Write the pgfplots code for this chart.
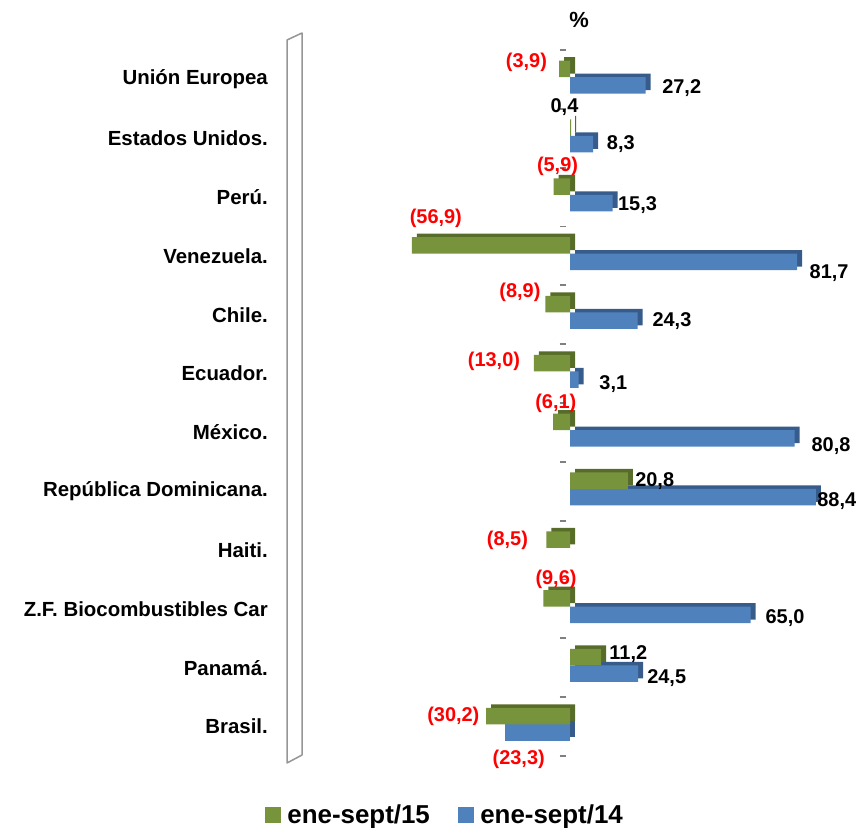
\documentclass[border=0pt]{standalone}
\usepackage{fontspec}
\setmainfont{Liberation Sans}
\usepackage{pgfplots}
\pgfplotsset{compat=1.18}
\usepackage{pgfplotstable}
\definecolor{gF}{RGB}{119,147,60}
\definecolor{gD}{RGB}{86,108,40}
\definecolor{bF}{RGB}{79,129,189}
\definecolor{bD}{RGB}{55,92,140}
\definecolor{wall}{RGB}{150,150,150}
\definecolor{tickc}{RGB}{128,128,128}

% ene-sept/15 (green): y position (11 = top), value, label offsets (bp), label
\pgfplotstableread{
y x dx dy lab
11 -3.9 -32.7 16.9 (3,9)
9 -5.9 3.9 31 (5,9)
8 -56.9 24 37.3 (56,9)
7 -8.9 -25.3 22.1 (8,9)
6 -13.0 -39.9 12.4 (13,0)
5 -6.1 2.8 28.7 (6,1)
3 -8.5 -38.9 9.6 (8,5)
2 -9.6 12.7 29.6 (9,6)
0 -30.2 -32.7 10.2 (30,2)
}\greenneg
\pgfplotstableread{
y x dx dy lab
10 0.4 -6.6 30.9 0,4
4 20.8 26.9 10 20,8
1 11.2 27.2 13.9 11,2
}\greenpos

% ene-sept/14 (blue)
\pgfplotstableread{
y x dx dy lab
11 27.2 36.1 -9.1 27,2
10 8.3 27.7 -6.1 8,3
9 15.3 25 -8.2 15,3
8 81.7 32 -17.2 81,7
7 24.3 34.4 -6.4 24,3
6 3.1 34.7 -10.1 3,1
5 80.8 36.4 -13.8 80,8
4 88.4 21 -10 88,4
2 65.0 34.3 -9.1 65,0
1 24.5 28.6 -10.3 24,5
}\bluepos
\pgfplotstableread{
y x dx dy lab
0 -23.3 13.5 -32.3 (23,3)
}\blueneg

\pgfplotsset{
  mylabels/.style={
    point meta=explicit symbolic,
    visualization depends on={\thisrow{dx}\as\mydx},
    visualization depends on={\thisrow{dy}\as\mydy},
    nodes near coords,
    every node near coord/.append style={anchor=center, inner sep=0pt,
      xshift=\mydx bp, yshift=\mydy bp,
      font=\bfseries\fontsize{20}{24}\selectfont, text=#1},
  },
  gbar/.style={xbar, bar width=16.5bp, bar shift=10.5bp, fill=gF, draw=none, forget plot},
  bbar/.style={xbar, bar width=16.5bp, bar shift=-6bp, fill=bF, draw=none, forget plot},
  gdepth/.style={xbar, bar width=16.5bp, bar shift=14bp, fill=gD, draw=none, forget plot, xshift=5bp},
  bdepth/.style={xbar, bar width=16.5bp, bar shift=-2.5bp, fill=bD, draw=none, forget plot, xshift=5bp},
}

\begin{document}
\begin{tikzpicture}
\path[use as bounding box] (0bp,0bp) rectangle (858bp,828bp);
\draw[wall, line width=1.5bp, fill=white, line join=round]
  (287bp,65bp) -- (287bp,788bp) -- (302bp,795bp) -- (302bp,73bp) -- cycle;
\begin{axis}[
  at={(292bp,72bp)}, anchor=south west,
  scale only axis, width=556bp, height=706bp,
  xmin=-100, xmax=100, ymin=-0.5, ymax=11.5,
  axis line style={draw=none},
  xtick=\empty,
  ytick={0,...,11},
  yticklabels={Brasil.,Panamá.,Z.F. Biocombustibles Car,Haiti.,República Dominicana.,México.,Ecuador.,Chile.,Venezuela.,Perú.,Estados Unidos.,Unión Europea},
  major tick length=0pt,
  yticklabel style={font=\bfseries\fontsize{20.5}{24}\selectfont, anchor=east, inner sep=0pt, xshift=-24bp},
  clip=false,
  legend columns=2,
  legend style={at={(0.275,-0.0836)}, anchor=center, draw=none, fill=none,
    font=\bfseries\fontsize{26}{30}\selectfont,
    /tikz/every odd column/.append style={column sep=5bp},
    /tikz/every even column/.append style={column sep=26bp}},
  legend cell align=left,
]
\addlegendimage{legend image code/.code={\fill[gF] (0bp,-7.5bp) rectangle (15bp,7.5bp);}}
\addlegendentry{ene-sept/15}
\addlegendimage{legend image code/.code={\fill[bF] (0bp,-7.5bp) rectangle (15bp,7.5bp);}}
\addlegendentry{ene-sept/14}

\pgfplotsinvokeforeach{-0.5,0.5,1.5,2.5,3.5,4.5,5.5,6.5,7.5,8.5,9.5,10.5,11.5}{
  \draw[tickc, line width=1.8bp] ([xshift=-10.5bp]axis cs:0,#1) -- ([xshift=-4bp]axis cs:0,#1);
}

% blue series (depth, then front)
\addplot[bdepth] table[x=x, y=y]{\bluepos};
\addplot[bdepth] table[x=x, y=y]{\blueneg};
\addplot[bbar, mylabels=black] table[x=x, y=y, meta=lab]{\bluepos};
\addplot[bbar, mylabels=red] table[x=x, y=y, meta=lab]{\blueneg};
% green series (depth, then front)
\addplot[gdepth] table[x=x, y=y]{\greenpos};
\addplot[gdepth] table[x=x, y=y]{\greenneg};
\addplot[gbar, mylabels=black] table[x=x, y=y, meta=lab]{\greenpos};
\addplot[gbar, mylabels=red] table[x=x, y=y, meta=lab]{\greenneg};
\end{axis}
\node[font=\bfseries\fontsize{22}{26}\selectfont] at (579bp,808bp) {\%};
\end{tikzpicture}
\end{document}
